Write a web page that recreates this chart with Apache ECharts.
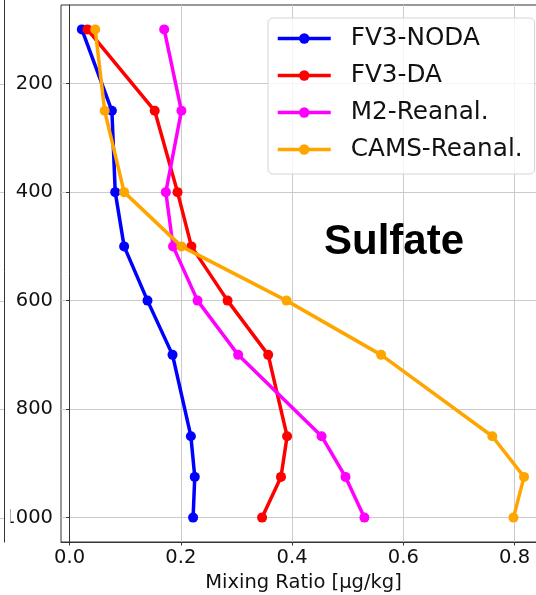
<!DOCTYPE html>
<html>
<head>
<meta charset="utf-8">
<script src="https://cdn.jsdelivr.net/npm/echarts@6/dist/echarts.min.js"></script>
<style>
  html, body { margin: 0; padding: 0; background: #ffffff; overflow: hidden; }
  #chart { width: 536px; height: 595px; }
</style>
</head>
<body>
<div id="chart"></div>
<script>
// Vertical profiles of sulfate mixing ratio (µg/kg) by pressure level (hPa)
const pressureLevels = [100, 250, 400, 500, 600, 700, 850, 925, 1000];
const fv3Noda = [0.022, 0.076, 0.082, 0.098, 0.140, 0.185, 0.218, 0.225, 0.222];
const fv3Da   = [0.032, 0.153, 0.194, 0.219, 0.284, 0.357, 0.391, 0.380, 0.346];
const m2Reanal   = [0.170, 0.201, 0.173, 0.186, 0.230, 0.303, 0.453, 0.496, 0.530];
const camsReanal = [0.046, 0.063, 0.098, 0.201, 0.390, 0.560, 0.760, 0.817, 0.798];

const seriesNames = ['FV3-NODA', 'FV3-DA', 'M2-Reanal.', 'CAMS-Reanal.'];
const seriesValues = [fv3Noda, fv3Da, m2Reanal, camsReanal];
const seriesColors = ['#0000ff', '#ff0000', '#ff00ff', '#ffa500'];

const xTickValues = [0.0, 0.2, 0.4, 0.6, 0.8];
const yTickValues = [200, 400, 600, 800, 1000];

const panelTitle = 'Sulfate';
const xAxisTitle = 'Mixing Ratio [µg/kg]';

const FONT = '"DejaVu Sans", sans-serif';
const TEXT_COLOR = '#111111';
const GRID_COLOR = '#cbcbcb';
const SPINE_COLOR = '#333333';

const chart = echarts.init(document.getElementById('chart'), null, { renderer: 'canvas' });

const series = seriesNames.map((name, i) => ({
  name: name,
  type: 'line',
  data: pressureLevels.map((p, k) => [seriesValues[i][k], p]),
  symbol: 'circle',
  symbolSize: 10,
  showSymbol: true,
  clip: false,
  animation: false,
  z: 3 + i,
  itemStyle: { color: seriesColors[i] },
  lineStyle: { color: seriesColors[i], width: 3.5 },
  emphasis: { disabled: true }
}));

chart.setOption({
  animation: false,
  backgroundColor: '#ffffff',
  textStyle: { fontFamily: FONT },
  grid: {
    left: 61, top: 5, width: 485, height: 537,
    outerBoundsMode: 'none',
    containLabel: false,
    show: true, borderColor: SPINE_COLOR, borderWidth: 1,
    backgroundColor: 'transparent'
  },
  xAxis: {
    type: 'value',
    min: -0.0155, max: 0.8565,
    name: xAxisTitle,
    nameLocation: 'middle',
    nameGap: 26,
    nameTextStyle: { fontFamily: FONT, fontSize: 19.5, color: TEXT_COLOR },
    axisLine: { show: true, lineStyle: { color: SPINE_COLOR, width: 1 } },
    axisTick: { show: true, length: 3.5, lineStyle: { color: SPINE_COLOR, width: 1 }, customValues: xTickValues },
    axisLabel: {
      customValues: xTickValues,
      margin: 6, fontFamily: FONT, fontSize: 19.5, color: TEXT_COLOR,
      formatter: v => Number(v).toFixed(1)
    },
    splitLine: { show: true, lineStyle: { color: GRID_COLOR, width: 1 } }
  },
  yAxis: {
    type: 'value',
    inverse: true,
    min: 55, max: 1045,
    axisLine: { show: true, lineStyle: { color: SPINE_COLOR, width: 1 } },
    axisTick: { show: true, length: 3.5, lineStyle: { color: SPINE_COLOR, width: 1 }, customValues: yTickValues },
    axisLabel: {
      customValues: yTickValues,
      margin: 8, fontFamily: FONT, fontSize: 19.5, color: TEXT_COLOR,
      formatter: v => String(Math.round(v))
    },
    splitLine: { show: true, lineStyle: { color: GRID_COLOR, width: 1 } }
  },
  legend: {
    show: true,
    data: seriesNames,
    orient: 'vertical',
    left: 268, top: 18,
    padding: [8, 12, 12, 8],
    itemGap: 12,
    itemWidth: 53,
    itemHeight: 13,
    lineStyle: { width: 3.5 },
    backgroundColor: 'rgba(255,255,255,0.8)',
    borderColor: '#d4d4d4',
    borderWidth: 1,
    borderRadius: 5,
    selectedMode: false,
    textStyle: {
      fontFamily: FONT, fontSize: 24.7, color: TEXT_COLOR,
      lineHeight: 24, padding: [0, 0, 0, 15]
    },
    z: 20
  },
  series: series
});

// Neighbouring panel edge on the far left, with its grid stubs at the shared pressure ticks
const leftEdgeX = 4;
const bottomY = chart.convertToPixel({ yAxisIndex: 0 }, 1045);
const stubs = yTickValues.map(p => {
  const y = Math.round(chart.convertToPixel({ yAxisIndex: 0 }, p)) + 0.5;
  return {
    type: 'line', silent: true, z: 1,
    shape: { x1: 0, y1: y, x2: leftEdgeX, y2: y },
    style: { stroke: GRID_COLOR, lineWidth: 1 }
  };
});
const label1000Y = chart.convertToPixel({ yAxisIndex: 0 }, 1000);

chart.setOption({
  graphic: [
    ...stubs,
    {
      type: 'rect', silent: true, z: 50,
      shape: { x: leftEdgeX + 0.5, y: label1000Y - 14, width: 6, height: 28 },
      style: { fill: '#ffffff' }
    },
    {
      type: 'line', silent: true, z: 51,
      shape: { x1: leftEdgeX + 0.5, y1: 0, x2: leftEdgeX + 0.5, y2: Math.round(bottomY) + 0.5 },
      style: { stroke: SPINE_COLOR, lineWidth: 1 }
    },
    {
      type: 'text', silent: true, z: 30,
      x: 394, y: 242,
      style: {
        text: panelTitle,
        font: 'bold 42px "Liberation Sans", Arial, sans-serif',
        fill: '#000000',
        align: 'center',
        verticalAlign: 'middle'
      }
    }
  ]
});
</script>
</body>
</html>
